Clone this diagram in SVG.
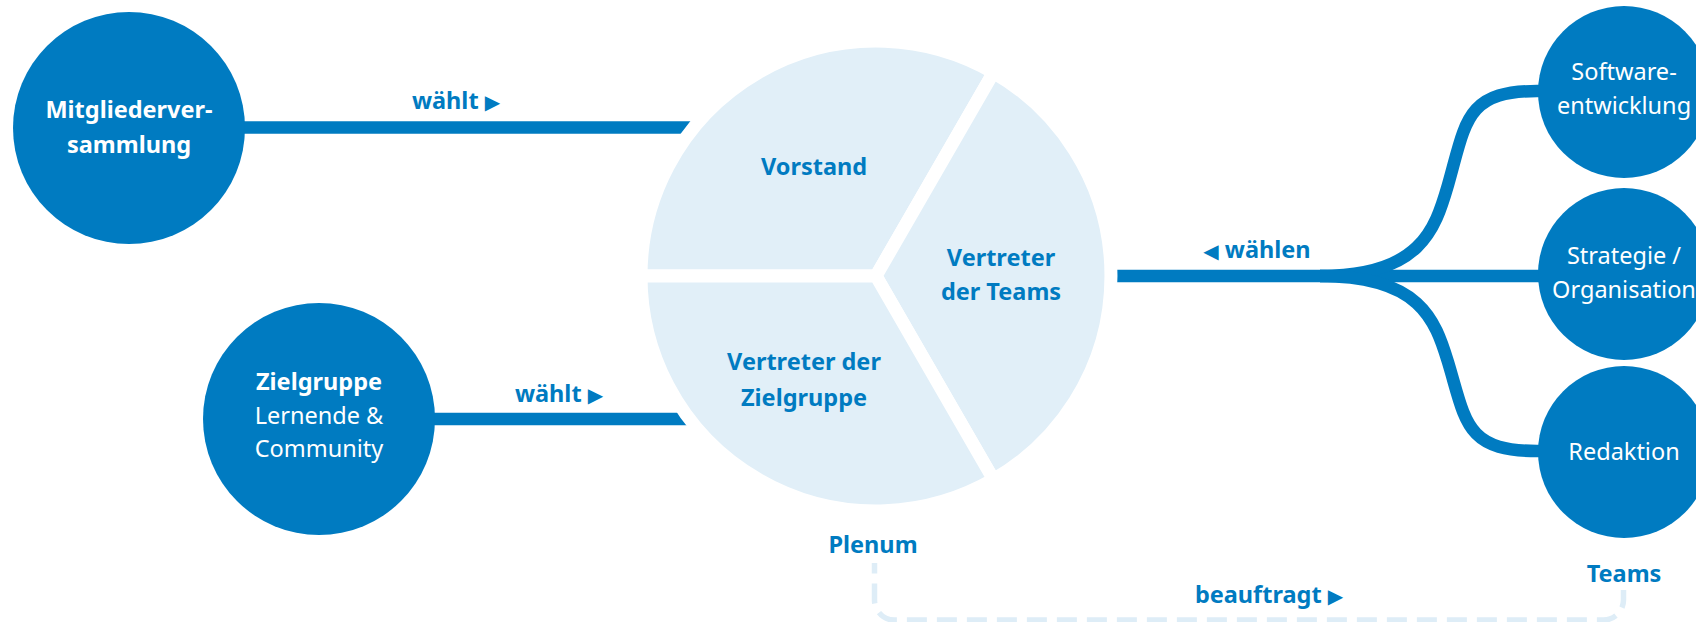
<svg xmlns="http://www.w3.org/2000/svg" width="1696" height="622" viewBox="0 0 1696 622">
  <style>
    .node { fill: #007bc1; }
    .slice { fill: #e1eff8; stroke: #ffffff; stroke-width: 13; stroke-linejoin: miter; }
    .link { fill: none; stroke: #007bc1; stroke-width: 12.5; stroke-linecap: butt; }
    .dash { fill: none; stroke: #deedf7; stroke-width: 5.5; stroke-dasharray: 20 10; stroke-dashoffset: 9.4; }
    text { font-family: "Noto Sans", "Open Sans", "DejaVu Sans", sans-serif; font-size: 23.5px; text-anchor: middle; }
    .b { font-weight: 700; }
    .w { fill: #ffffff; }
    .blue { fill: #007bc1; }
    .tri { font-family: "DejaVu Sans", sans-serif; font-size: 20px; }
  </style>

  <!-- connectors (drawn beneath the circles and the pie) -->
  <g id="connectors">
    <path class="link" d="M200,127.5 H760"/>
    <path class="link" d="M390,419 H760"/>
    <path class="link" d="M1050,276 H1320 H1600"/>
    <path class="link" d="M1320,276 C1420,276 1435,230 1448,185 C1466,122 1465,91 1537,91 H1600"/>
    <path class="link" d="M1320,276 C1420,276 1435,319.5 1448,362 C1466,421.7 1465,451 1537,451 H1600"/>
    <path class="dash" d="M874.5,563 V600 A20,20 0 0 0 894.5,620 H1603.5 A20,20 0 0 0 1623.5,600 V590"/>
    <text class="b blue" x="456" y="109">wählt <tspan class="tri">▶</tspan></text>
    <text class="b blue" x="559" y="402">wählt <tspan class="tri">▶</tspan></text>
    <text class="b blue" x="1257" y="258"><tspan class="tri">◀</tspan> wählen</text>
    <text class="b blue" x="1269" y="603">beauftragt <tspan class="tri">▶</tspan></text>
  </g>

  <!-- left nodes -->
  <g id="mitgliederversammlung">
    <circle class="node" cx="129" cy="128" r="116"/>
    <text class="b w" x="129" y="118">Mitgliederver-</text>
    <text class="b w" x="129" y="153">sammlung</text>
  </g>
  <g id="zielgruppe">
    <circle class="node" cx="319" cy="419" r="116"/>
    <text class="b w" x="319" y="390">Zielgruppe</text>
    <text class="w" x="319" y="424">Lernende &amp;</text>
    <text class="w" x="319" y="457">Community</text>
  </g>

  <!-- plenum pie -->
  <g id="plenum">
    <g id="vorstand">
      <path class="slice" d="M876,276 L641,276 A235,235 0 0 1 993.5,72.5 Z"/>
      <text class="b blue" x="814" y="175">Vorstand</text>
    </g>
    <g id="vertreter-teams">
      <path class="slice" d="M876,276 L993.5,72.5 A235,235 0 0 1 993.5,479.5 Z"/>
      <text class="b blue" x="1001" y="266">Vertreter</text>
      <text class="b blue" x="1001" y="300">der Teams</text>
    </g>
    <g id="vertreter-zielgruppe">
      <path class="slice" d="M876,276 L993.5,479.5 A235,235 0 0 1 641,276 Z"/>
      <text class="b blue" x="804" y="370">Vertreter der</text>
      <text class="b blue" x="804" y="406">Zielgruppe</text>
    </g>
    <text class="b blue" x="873" y="553">Plenum</text>
  </g>

  <!-- team nodes -->
  <g id="teams">
    <g id="softwareentwicklung">
      <circle class="node" cx="1624" cy="92" r="86"/>
      <text class="w" x="1624" y="80">Software-</text>
      <text class="w" x="1624" y="114">entwicklung</text>
    </g>
    <g id="strategie">
      <circle class="node" cx="1624" cy="274" r="86"/>
      <text class="w" x="1624" y="264">Strategie /</text>
      <text class="w" x="1624" y="298">Organisation</text>
    </g>
    <g id="redaktion">
      <circle class="node" cx="1624" cy="452" r="86"/>
      <text class="w" x="1624" y="460">Redaktion</text>
    </g>
    <text class="b blue" x="1624" y="582">Teams</text>
  </g>
</svg>
